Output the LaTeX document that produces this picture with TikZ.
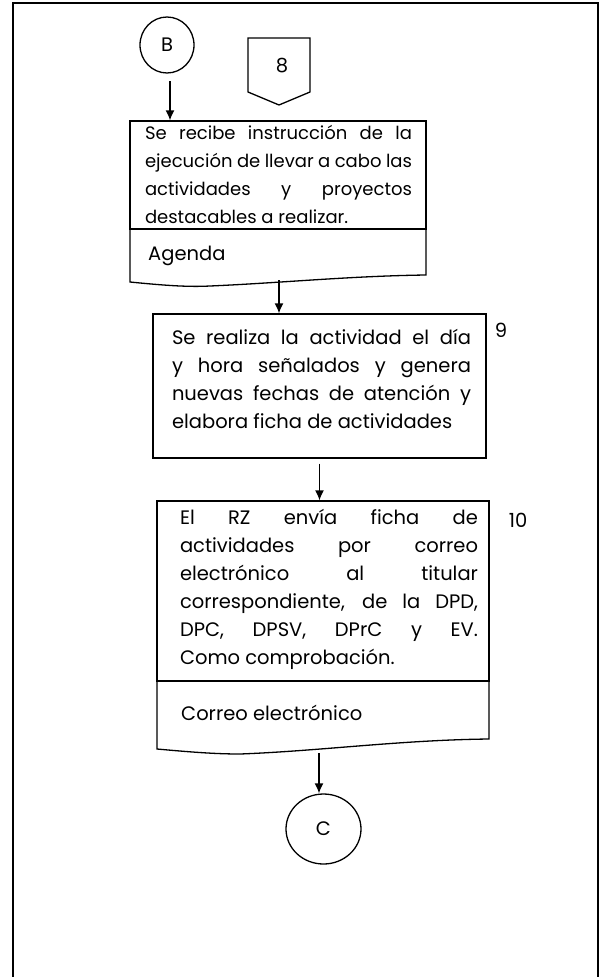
\documentclass[tikz,border=0pt]{standalone}
\usepackage{fontspec}
\setmainfont{Poppins}
\usetikzlibrary{shapes.geometric,arrows.meta}
\newcommand\nohy{\hyphenpenalty=10000 \exhyphenpenalty=10000 }
\begin{document}
\begin{tikzpicture}[x=1pt,y=-1pt,
  ln/.style={line width=1.3pt},
  flow/.style={ln,-{Latex[length=10pt,width=9pt]}},
  txt/.style={inner sep=0pt,align=justify,font=\fontsize{19.5}{28}\selectfont},
  txts/.style={inner sep=0pt,align=justify,font=\fontsize{18}{28}\selectfont},
  lbl/.style={inner sep=0pt,font=\fontsize{19.5}{24}\selectfont},
  boxr/.style={draw,ln,inner sep=0pt}]
\useasboundingbox (0,0) rectangle (600,977);
\draw[line width=1.8pt] (13,977) -- (13,3) -- (598,3) -- (598,977);
% connector B
\node[draw,ln,ellipse,minimum width=54pt,minimum height=56pt,inner sep=0pt,lbl] (B) at (167,45) {B};
% off-page 8
\draw[ln] (248,38) -- (310,38) -- (310,92) -- (279,105) -- (248,92) -- cycle;
\node[lbl] (p8) at (282,66) {8};
% document 1
\node[boxr,minimum width=296pt,minimum height=108pt] (d1) at (278,175) {};
\node[txts,text width=267pt] (t1) at (278.5,174) {\nohy Se recibe instrucción de la\linebreak ejecución de llevar a cabo las\linebreak actividades y proyectos\linebreak destacables a realizar.};
\draw[ln] (130,229) -- (130,282) .. controls (170,286) and (190,287) .. (210,286) .. controls (280,283) and (350,276) .. (426,275) -- (426,229);
\node[lbl,anchor=west] (ag) at (148,256) {Agenda};
\coordinate (d1b) at (279,280);
\coordinate (Bt) at (170,81);
% box 2
\node[boxr,minimum width=333pt,minimum height=144pt] (b2) at (319.5,386) {};
\node[txt,text width=299pt] (t2) at (321.5,378.5) {\nohy Se realiza la actividad el día\linebreak y hora señalados y genera\linebreak nuevas fechas de atención y\linebreak elabora ficha de actividades};
\node[lbl] (n9) at (501,330) {9};
% document 3
\node[boxr,minimum width=332pt,minimum height=180pt] (d3) at (323,591) {};
\node[txt,text width=298pt] (t3) at (329,589.5) {\nohy El RZ envía ficha de\linebreak actividades por correo\linebreak electrónico al titular\linebreak correspondiente, de la DPD,\linebreak DPC, DPSV, DPrC y EV.\linebreak Como comprobación.};
\draw[ln] (157,681) -- (157,749) .. controls (190,752) and (215,754) .. (240,754) .. controls (320,751) and (400,740) .. (489,739) -- (489,681);
\node[lbl,anchor=west] (ce) at (181,713) {Correo electrónico};
\coordinate (d3b) at (319,753);
\node[draw,ln,ellipse,minimum width=75pt,minimum height=70pt,inner sep=0pt,lbl] (C) at (323.5,829) {C};
\node[lbl] (n10) at (518,520) {10};
% arrows
\draw[flow] (Bt) -- (Bt |- d1.north);
\draw[flow] (d1b) -- (d1b |- b2.north);
\draw[flow,shorten <=5pt] (b2.south) -- (b2.south |- d3.north);
\draw[flow] (d3b) -- (d3b |- C.north);
\end{tikzpicture}
\end{document}
